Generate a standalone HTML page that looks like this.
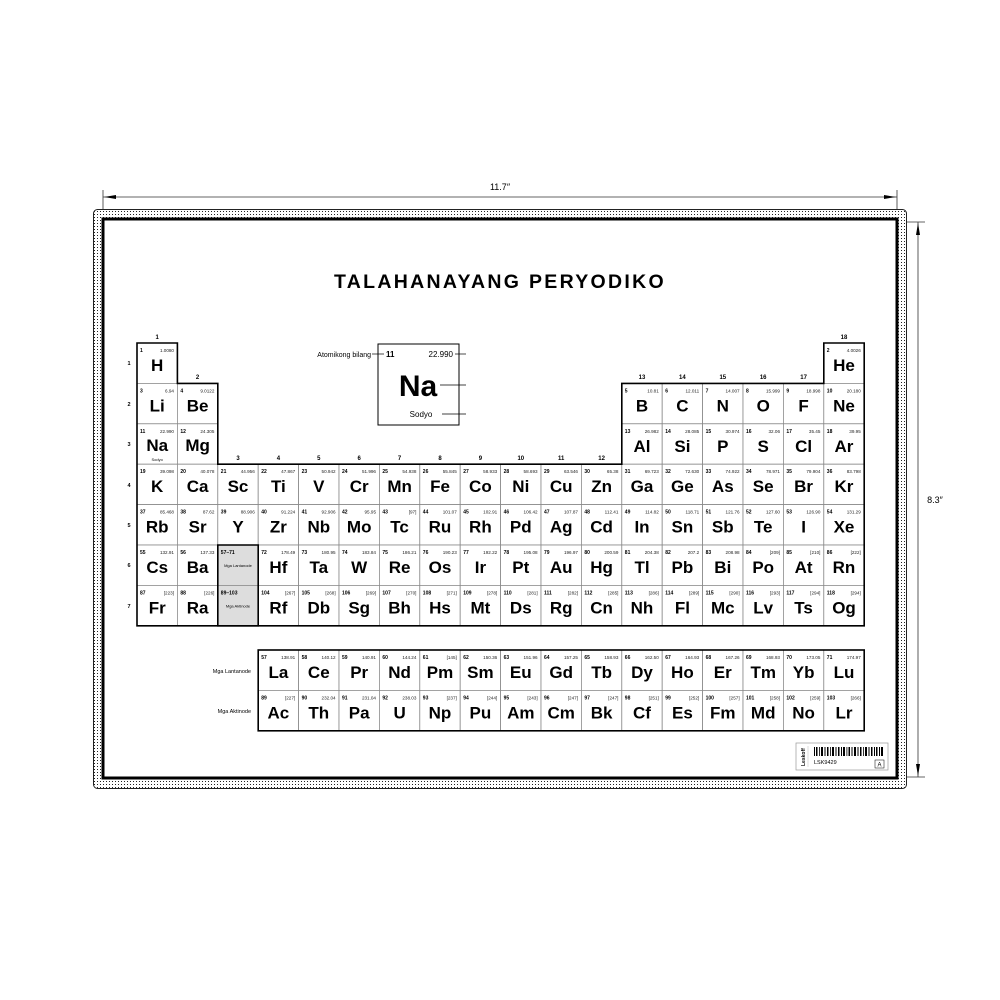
<!DOCTYPE html>
<html><head><meta charset="utf-8"><style>
html,body{margin:0;padding:0;background:#fff;}
svg{display:block;font-family:"Liberation Sans",Arial,sans-serif;}
.n{font-size:5px;font-weight:bold;}
.m{font-size:4.6px;text-anchor:end;fill:#222;}
.s{font-size:17px;font-weight:bold;text-anchor:middle;}
.c{fill:#fff;stroke:#8a8a8a;stroke-width:0.8;}
.g{font-size:6px;font-weight:bold;text-anchor:middle;}
.p{font-size:5.5px;font-weight:bold;text-anchor:middle;}
</style></head><body>
<svg width="1000" height="1000" viewBox="0 0 1000 1000">
<defs>
<pattern id="dots" width="3" height="3" patternUnits="userSpaceOnUse"><rect width="3" height="3" fill="#fff"/><rect x="1" y="1" width="1" height="1" fill="#222"/></pattern>
<g id="cell"><rect class="c" width="40.4" height="40.4"/></g>
</defs>
<!-- dimension lines -->
<line x1="103" y1="197" x2="897" y2="197" stroke="#333" stroke-width="0.8"/>
<line x1="103" y1="190" x2="103" y2="212" stroke="#333" stroke-width="0.8"/>
<line x1="897" y1="190" x2="897" y2="212" stroke="#333" stroke-width="0.8"/>
<polygon points="104,197 116,195 116,199" fill="#000"/>
<polygon points="896,197 884,195 884,199" fill="#000"/>
<text x="500" y="190" font-size="9" text-anchor="middle">11.7″</text>
<line x1="918" y1="222" x2="918" y2="777" stroke="#333" stroke-width="0.8"/>
<line x1="906" y1="222" x2="925" y2="222" stroke="#333" stroke-width="0.8"/>
<line x1="906" y1="777" x2="925" y2="777" stroke="#333" stroke-width="0.8"/>
<polygon points="918,223 916,235 920,235" fill="#000"/>
<polygon points="918,776 916,764 920,764" fill="#000"/>
<text x="935" y="503" font-size="9" text-anchor="middle">8.3″</text>
<!-- frame -->
<rect x="93.5" y="209.5" width="813" height="579" rx="4" fill="url(#dots)" stroke="#222" stroke-width="1"/>
<rect x="103" y="219" width="794" height="559" fill="#fff" stroke="#000" stroke-width="3"/>
<text x="500" y="288" font-size="19.5" font-weight="bold" text-anchor="middle" letter-spacing="2.3">TALAHANAYANG PERYODIKO</text>
<!-- key -->
<rect x="378" y="344" width="81" height="81" fill="#fff" stroke="#000" stroke-width="1"/>
<text x="386" y="357" font-size="8" font-weight="bold">11</text>
<text x="453" y="357" font-size="8" text-anchor="end">22.990</text>
<text x="418" y="396" font-size="30" font-weight="bold" text-anchor="middle">Na</text>
<text x="421" y="417" font-size="8" text-anchor="middle">Sodyo</text>
<text x="371" y="357" font-size="7" text-anchor="end">Atomikong bilang</text>
<g stroke="#000" stroke-width="0.7"><line x1="372" y1="354" x2="384" y2="354"/><line x1="455" y1="354" x2="466" y2="354"/><line x1="440" y1="385" x2="466" y2="385"/><line x1="442" y1="414" x2="466" y2="414"/></g>
<!-- group numbers -->
<text class="g" x="157.2" y="339">1</text><text class="g" x="197.6" y="379">2</text>
<text class="g" x="238" y="460">3</text><text class="g" x="278.4" y="460">4</text><text class="g" x="318.8" y="460">5</text><text class="g" x="359.2" y="460">6</text><text class="g" x="399.6" y="460">7</text><text class="g" x="440" y="460">8</text><text class="g" x="480.4" y="460">9</text><text class="g" x="520.8" y="460">10</text><text class="g" x="561.2" y="460">11</text><text class="g" x="601.6" y="460">12</text>
<text class="g" x="642" y="379">13</text><text class="g" x="682.4" y="379">14</text><text class="g" x="722.8" y="379">15</text><text class="g" x="763.2" y="379">16</text><text class="g" x="803.6" y="379">17</text><text class="g" x="844" y="339">18</text>
<text class="p" x="129" y="365">1</text><text class="p" x="129" y="406">2</text><text class="p" x="129" y="446">3</text><text class="p" x="129" y="487">4</text><text class="p" x="129" y="527">5</text><text class="p" x="129" y="567">6</text><text class="p" x="129" y="608">7</text>
<!-- cells -->
<g transform="translate(137,343)"><use href="#cell"/><text class="n" x="3" y="9">1</text><text class="m" x="37" y="9">1.0080</text><text class="s" x="20.2" y="28">H</text></g>
<g transform="translate(823.8,343)"><use href="#cell"/><text class="n" x="3" y="9">2</text><text class="m" x="37" y="9">4.0026</text><text class="s" x="20.2" y="28">He</text></g>
<g transform="translate(137,383.4)"><use href="#cell"/><text class="n" x="3" y="9">3</text><text class="m" x="37" y="9">6.94</text><text class="s" x="20.2" y="28">Li</text></g>
<g transform="translate(177.4,383.4)"><use href="#cell"/><text class="n" x="3" y="9">4</text><text class="m" x="37" y="9">9.0122</text><text class="s" x="20.2" y="28">Be</text></g>
<g transform="translate(621.8,383.4)"><use href="#cell"/><text class="n" x="3" y="9">5</text><text class="m" x="37" y="9">10.81</text><text class="s" x="20.2" y="28">B</text></g>
<g transform="translate(662.2,383.4)"><use href="#cell"/><text class="n" x="3" y="9">6</text><text class="m" x="37" y="9">12.011</text><text class="s" x="20.2" y="28">C</text></g>
<g transform="translate(702.6,383.4)"><use href="#cell"/><text class="n" x="3" y="9">7</text><text class="m" x="37" y="9">14.007</text><text class="s" x="20.2" y="28">N</text></g>
<g transform="translate(743,383.4)"><use href="#cell"/><text class="n" x="3" y="9">8</text><text class="m" x="37" y="9">15.999</text><text class="s" x="20.2" y="28">O</text></g>
<g transform="translate(783.4,383.4)"><use href="#cell"/><text class="n" x="3" y="9">9</text><text class="m" x="37" y="9">18.998</text><text class="s" x="20.2" y="28">F</text></g>
<g transform="translate(823.8,383.4)"><use href="#cell"/><text class="n" x="3" y="9">10</text><text class="m" x="37" y="9">20.180</text><text class="s" x="20.2" y="28">Ne</text></g>
<g transform="translate(137,423.8)"><use href="#cell"/><text class="n" x="3" y="9">11</text><text class="m" x="37" y="9">22.990</text><text class="s" x="20.2" y="27">Na</text><text x="20.2" y="37" font-size="4" text-anchor="middle">Sodyo</text></g>
<g transform="translate(177.4,423.8)"><use href="#cell"/><text class="n" x="3" y="9">12</text><text class="m" x="37" y="9">24.305</text><text class="s" x="20.2" y="27">Mg</text></g>
<g transform="translate(621.8,423.8)"><use href="#cell"/><text class="n" x="3" y="9">13</text><text class="m" x="37" y="9">26.982</text><text class="s" x="20.2" y="28">Al</text></g>
<g transform="translate(662.2,423.8)"><use href="#cell"/><text class="n" x="3" y="9">14</text><text class="m" x="37" y="9">28.085</text><text class="s" x="20.2" y="28">Si</text></g>
<g transform="translate(702.6,423.8)"><use href="#cell"/><text class="n" x="3" y="9">15</text><text class="m" x="37" y="9">30.974</text><text class="s" x="20.2" y="28">P</text></g>
<g transform="translate(743,423.8)"><use href="#cell"/><text class="n" x="3" y="9">16</text><text class="m" x="37" y="9">32.06</text><text class="s" x="20.2" y="28">S</text></g>
<g transform="translate(783.4,423.8)"><use href="#cell"/><text class="n" x="3" y="9">17</text><text class="m" x="37" y="9">35.45</text><text class="s" x="20.2" y="28">Cl</text></g>
<g transform="translate(823.8,423.8)"><use href="#cell"/><text class="n" x="3" y="9">18</text><text class="m" x="37" y="9">39.95</text><text class="s" x="20.2" y="28">Ar</text></g>
<!-- row 4 -->
<g transform="translate(137,464.2)"><use href="#cell"/><text class="n" x="3" y="9">19</text><text class="m" x="37" y="9">39.098</text><text class="s" x="20.2" y="28">K</text></g>
<g transform="translate(177.4,464.2)"><use href="#cell"/><text class="n" x="3" y="9">20</text><text class="m" x="37" y="9">40.078</text><text class="s" x="20.2" y="28">Ca</text></g>
<g transform="translate(217.8,464.2)"><use href="#cell"/><text class="n" x="3" y="9">21</text><text class="m" x="37" y="9">44.956</text><text class="s" x="20.2" y="28">Sc</text></g>
<g transform="translate(258.2,464.2)"><use href="#cell"/><text class="n" x="3" y="9">22</text><text class="m" x="37" y="9">47.867</text><text class="s" x="20.2" y="28">Ti</text></g>
<g transform="translate(298.6,464.2)"><use href="#cell"/><text class="n" x="3" y="9">23</text><text class="m" x="37" y="9">50.942</text><text class="s" x="20.2" y="28">V</text></g>
<g transform="translate(339,464.2)"><use href="#cell"/><text class="n" x="3" y="9">24</text><text class="m" x="37" y="9">51.996</text><text class="s" x="20.2" y="28">Cr</text></g>
<g transform="translate(379.4,464.2)"><use href="#cell"/><text class="n" x="3" y="9">25</text><text class="m" x="37" y="9">54.938</text><text class="s" x="20.2" y="28">Mn</text></g>
<g transform="translate(419.8,464.2)"><use href="#cell"/><text class="n" x="3" y="9">26</text><text class="m" x="37" y="9">55.845</text><text class="s" x="20.2" y="28">Fe</text></g>
<g transform="translate(460.2,464.2)"><use href="#cell"/><text class="n" x="3" y="9">27</text><text class="m" x="37" y="9">58.933</text><text class="s" x="20.2" y="28">Co</text></g>
<g transform="translate(500.6,464.2)"><use href="#cell"/><text class="n" x="3" y="9">28</text><text class="m" x="37" y="9">58.693</text><text class="s" x="20.2" y="28">Ni</text></g>
<g transform="translate(541,464.2)"><use href="#cell"/><text class="n" x="3" y="9">29</text><text class="m" x="37" y="9">63.546</text><text class="s" x="20.2" y="28">Cu</text></g>
<g transform="translate(581.4,464.2)"><use href="#cell"/><text class="n" x="3" y="9">30</text><text class="m" x="37" y="9">65.38</text><text class="s" x="20.2" y="28">Zn</text></g>
<g transform="translate(621.8,464.2)"><use href="#cell"/><text class="n" x="3" y="9">31</text><text class="m" x="37" y="9">69.723</text><text class="s" x="20.2" y="28">Ga</text></g>
<g transform="translate(662.2,464.2)"><use href="#cell"/><text class="n" x="3" y="9">32</text><text class="m" x="37" y="9">72.630</text><text class="s" x="20.2" y="28">Ge</text></g>
<g transform="translate(702.6,464.2)"><use href="#cell"/><text class="n" x="3" y="9">33</text><text class="m" x="37" y="9">74.922</text><text class="s" x="20.2" y="28">As</text></g>
<g transform="translate(743,464.2)"><use href="#cell"/><text class="n" x="3" y="9">34</text><text class="m" x="37" y="9">78.971</text><text class="s" x="20.2" y="28">Se</text></g>
<g transform="translate(783.4,464.2)"><use href="#cell"/><text class="n" x="3" y="9">35</text><text class="m" x="37" y="9">79.904</text><text class="s" x="20.2" y="28">Br</text></g>
<g transform="translate(823.8,464.2)"><use href="#cell"/><text class="n" x="3" y="9">36</text><text class="m" x="37" y="9">83.798</text><text class="s" x="20.2" y="28">Kr</text></g>
<!-- row 5 -->
<g transform="translate(137,504.6)"><use href="#cell"/><text class="n" x="3" y="9">37</text><text class="m" x="37" y="9">85.468</text><text class="s" x="20.2" y="28">Rb</text></g>
<g transform="translate(177.4,504.6)"><use href="#cell"/><text class="n" x="3" y="9">38</text><text class="m" x="37" y="9">87.62</text><text class="s" x="20.2" y="28">Sr</text></g>
<g transform="translate(217.8,504.6)"><use href="#cell"/><text class="n" x="3" y="9">39</text><text class="m" x="37" y="9">88.906</text><text class="s" x="20.2" y="28">Y</text></g>
<g transform="translate(258.2,504.6)"><use href="#cell"/><text class="n" x="3" y="9">40</text><text class="m" x="37" y="9">91.224</text><text class="s" x="20.2" y="28">Zr</text></g>
<g transform="translate(298.6,504.6)"><use href="#cell"/><text class="n" x="3" y="9">41</text><text class="m" x="37" y="9">92.906</text><text class="s" x="20.2" y="28">Nb</text></g>
<g transform="translate(339,504.6)"><use href="#cell"/><text class="n" x="3" y="9">42</text><text class="m" x="37" y="9">95.95</text><text class="s" x="20.2" y="28">Mo</text></g>
<g transform="translate(379.4,504.6)"><use href="#cell"/><text class="n" x="3" y="9">43</text><text class="m" x="37" y="9">[97]</text><text class="s" x="20.2" y="28">Tc</text></g>
<g transform="translate(419.8,504.6)"><use href="#cell"/><text class="n" x="3" y="9">44</text><text class="m" x="37" y="9">101.07</text><text class="s" x="20.2" y="28">Ru</text></g>
<g transform="translate(460.2,504.6)"><use href="#cell"/><text class="n" x="3" y="9">45</text><text class="m" x="37" y="9">102.91</text><text class="s" x="20.2" y="28">Rh</text></g>
<g transform="translate(500.6,504.6)"><use href="#cell"/><text class="n" x="3" y="9">46</text><text class="m" x="37" y="9">106.42</text><text class="s" x="20.2" y="28">Pd</text></g>
<g transform="translate(541,504.6)"><use href="#cell"/><text class="n" x="3" y="9">47</text><text class="m" x="37" y="9">107.87</text><text class="s" x="20.2" y="28">Ag</text></g>
<g transform="translate(581.4,504.6)"><use href="#cell"/><text class="n" x="3" y="9">48</text><text class="m" x="37" y="9">112.41</text><text class="s" x="20.2" y="28">Cd</text></g>
<g transform="translate(621.8,504.6)"><use href="#cell"/><text class="n" x="3" y="9">49</text><text class="m" x="37" y="9">114.82</text><text class="s" x="20.2" y="28">In</text></g>
<g transform="translate(662.2,504.6)"><use href="#cell"/><text class="n" x="3" y="9">50</text><text class="m" x="37" y="9">118.71</text><text class="s" x="20.2" y="28">Sn</text></g>
<g transform="translate(702.6,504.6)"><use href="#cell"/><text class="n" x="3" y="9">51</text><text class="m" x="37" y="9">121.76</text><text class="s" x="20.2" y="28">Sb</text></g>
<g transform="translate(743,504.6)"><use href="#cell"/><text class="n" x="3" y="9">52</text><text class="m" x="37" y="9">127.60</text><text class="s" x="20.2" y="28">Te</text></g>
<g transform="translate(783.4,504.6)"><use href="#cell"/><text class="n" x="3" y="9">53</text><text class="m" x="37" y="9">126.90</text><text class="s" x="20.2" y="28">I</text></g>
<g transform="translate(823.8,504.6)"><use href="#cell"/><text class="n" x="3" y="9">54</text><text class="m" x="37" y="9">131.29</text><text class="s" x="20.2" y="28">Xe</text></g>
<!-- row 6 -->
<g transform="translate(137,545)"><use href="#cell"/><text class="n" x="3" y="9">55</text><text class="m" x="37" y="9">132.91</text><text class="s" x="20.2" y="28">Cs</text></g>
<g transform="translate(177.4,545)"><use href="#cell"/><text class="n" x="3" y="9">56</text><text class="m" x="37" y="9">137.33</text><text class="s" x="20.2" y="28">Ba</text></g>
<g transform="translate(217.8,545)"><rect width="40.4" height="40.4" fill="#ddd" stroke="#8a8a8a" stroke-width="0.8"/><text class="n" x="3" y="9">57–71</text><text x="20.2" y="22" font-size="4" text-anchor="middle">Mga Lantanode</text></g>
<g transform="translate(258.2,545)"><use href="#cell"/><text class="n" x="3" y="9">72</text><text class="m" x="37" y="9">178.49</text><text class="s" x="20.2" y="28">Hf</text></g>
<g transform="translate(298.6,545)"><use href="#cell"/><text class="n" x="3" y="9">73</text><text class="m" x="37" y="9">180.95</text><text class="s" x="20.2" y="28">Ta</text></g>
<g transform="translate(339,545)"><use href="#cell"/><text class="n" x="3" y="9">74</text><text class="m" x="37" y="9">183.84</text><text class="s" x="20.2" y="28">W</text></g>
<g transform="translate(379.4,545)"><use href="#cell"/><text class="n" x="3" y="9">75</text><text class="m" x="37" y="9">186.21</text><text class="s" x="20.2" y="28">Re</text></g>
<g transform="translate(419.8,545)"><use href="#cell"/><text class="n" x="3" y="9">76</text><text class="m" x="37" y="9">190.23</text><text class="s" x="20.2" y="28">Os</text></g>
<g transform="translate(460.2,545)"><use href="#cell"/><text class="n" x="3" y="9">77</text><text class="m" x="37" y="9">192.22</text><text class="s" x="20.2" y="28">Ir</text></g>
<g transform="translate(500.6,545)"><use href="#cell"/><text class="n" x="3" y="9">78</text><text class="m" x="37" y="9">195.08</text><text class="s" x="20.2" y="28">Pt</text></g>
<g transform="translate(541,545)"><use href="#cell"/><text class="n" x="3" y="9">79</text><text class="m" x="37" y="9">196.97</text><text class="s" x="20.2" y="28">Au</text></g>
<g transform="translate(581.4,545)"><use href="#cell"/><text class="n" x="3" y="9">80</text><text class="m" x="37" y="9">200.59</text><text class="s" x="20.2" y="28">Hg</text></g>
<g transform="translate(621.8,545)"><use href="#cell"/><text class="n" x="3" y="9">81</text><text class="m" x="37" y="9">204.38</text><text class="s" x="20.2" y="28">Tl</text></g>
<g transform="translate(662.2,545)"><use href="#cell"/><text class="n" x="3" y="9">82</text><text class="m" x="37" y="9">207.2</text><text class="s" x="20.2" y="28">Pb</text></g>
<g transform="translate(702.6,545)"><use href="#cell"/><text class="n" x="3" y="9">83</text><text class="m" x="37" y="9">208.98</text><text class="s" x="20.2" y="28">Bi</text></g>
<g transform="translate(743,545)"><use href="#cell"/><text class="n" x="3" y="9">84</text><text class="m" x="37" y="9">[209]</text><text class="s" x="20.2" y="28">Po</text></g>
<g transform="translate(783.4,545)"><use href="#cell"/><text class="n" x="3" y="9">85</text><text class="m" x="37" y="9">[210]</text><text class="s" x="20.2" y="28">At</text></g>
<g transform="translate(823.8,545)"><use href="#cell"/><text class="n" x="3" y="9">86</text><text class="m" x="37" y="9">[222]</text><text class="s" x="20.2" y="28">Rn</text></g>
<!-- row 7 -->
<g transform="translate(137,585.4)"><use href="#cell"/><text class="n" x="3" y="9">87</text><text class="m" x="37" y="9">[223]</text><text class="s" x="20.2" y="28">Fr</text></g>
<g transform="translate(177.4,585.4)"><use href="#cell"/><text class="n" x="3" y="9">88</text><text class="m" x="37" y="9">[226]</text><text class="s" x="20.2" y="28">Ra</text></g>
<g transform="translate(217.8,585.4)"><rect width="40.4" height="40.4" fill="#ddd" stroke="#8a8a8a" stroke-width="0.8"/><text class="n" x="3" y="9">89–103</text><text x="20.2" y="22" font-size="4" text-anchor="middle">Mga Aktinode</text></g>
<g transform="translate(258.2,585.4)"><use href="#cell"/><text class="n" x="3" y="9">104</text><text class="m" x="37" y="9">[267]</text><text class="s" x="20.2" y="28">Rf</text></g>
<g transform="translate(298.6,585.4)"><use href="#cell"/><text class="n" x="3" y="9">105</text><text class="m" x="37" y="9">[268]</text><text class="s" x="20.2" y="28">Db</text></g>
<g transform="translate(339,585.4)"><use href="#cell"/><text class="n" x="3" y="9">106</text><text class="m" x="37" y="9">[269]</text><text class="s" x="20.2" y="28">Sg</text></g>
<g transform="translate(379.4,585.4)"><use href="#cell"/><text class="n" x="3" y="9">107</text><text class="m" x="37" y="9">[270]</text><text class="s" x="20.2" y="28">Bh</text></g>
<g transform="translate(419.8,585.4)"><use href="#cell"/><text class="n" x="3" y="9">108</text><text class="m" x="37" y="9">[271]</text><text class="s" x="20.2" y="28">Hs</text></g>
<g transform="translate(460.2,585.4)"><use href="#cell"/><text class="n" x="3" y="9">109</text><text class="m" x="37" y="9">[278]</text><text class="s" x="20.2" y="28">Mt</text></g>
<g transform="translate(500.6,585.4)"><use href="#cell"/><text class="n" x="3" y="9">110</text><text class="m" x="37" y="9">[281]</text><text class="s" x="20.2" y="28">Ds</text></g>
<g transform="translate(541,585.4)"><use href="#cell"/><text class="n" x="3" y="9">111</text><text class="m" x="37" y="9">[282]</text><text class="s" x="20.2" y="28">Rg</text></g>
<g transform="translate(581.4,585.4)"><use href="#cell"/><text class="n" x="3" y="9">112</text><text class="m" x="37" y="9">[285]</text><text class="s" x="20.2" y="28">Cn</text></g>
<g transform="translate(621.8,585.4)"><use href="#cell"/><text class="n" x="3" y="9">113</text><text class="m" x="37" y="9">[286]</text><text class="s" x="20.2" y="28">Nh</text></g>
<g transform="translate(662.2,585.4)"><use href="#cell"/><text class="n" x="3" y="9">114</text><text class="m" x="37" y="9">[289]</text><text class="s" x="20.2" y="28">Fl</text></g>
<g transform="translate(702.6,585.4)"><use href="#cell"/><text class="n" x="3" y="9">115</text><text class="m" x="37" y="9">[290]</text><text class="s" x="20.2" y="28">Mc</text></g>
<g transform="translate(743,585.4)"><use href="#cell"/><text class="n" x="3" y="9">116</text><text class="m" x="37" y="9">[293]</text><text class="s" x="20.2" y="28">Lv</text></g>
<g transform="translate(783.4,585.4)"><use href="#cell"/><text class="n" x="3" y="9">117</text><text class="m" x="37" y="9">[294]</text><text class="s" x="20.2" y="28">Ts</text></g>
<g transform="translate(823.8,585.4)"><use href="#cell"/><text class="n" x="3" y="9">118</text><text class="m" x="37" y="9">[294]</text><text class="s" x="20.2" y="28">Og</text></g>
<!-- lanthanides -->
<text x="251" y="673" font-size="5.5" text-anchor="end">Mga Lantanode</text>
<text x="251" y="713" font-size="5.5" text-anchor="end">Mga Aktinode</text>
<g transform="translate(258.2,650)"><use href="#cell"/><text class="n" x="3" y="9">57</text><text class="m" x="37" y="9">138.91</text><text class="s" x="20.2" y="28">La</text></g>
<g transform="translate(298.6,650)"><use href="#cell"/><text class="n" x="3" y="9">58</text><text class="m" x="37" y="9">140.12</text><text class="s" x="20.2" y="28">Ce</text></g>
<g transform="translate(339,650)"><use href="#cell"/><text class="n" x="3" y="9">59</text><text class="m" x="37" y="9">140.91</text><text class="s" x="20.2" y="28">Pr</text></g>
<g transform="translate(379.4,650)"><use href="#cell"/><text class="n" x="3" y="9">60</text><text class="m" x="37" y="9">144.24</text><text class="s" x="20.2" y="28">Nd</text></g>
<g transform="translate(419.8,650)"><use href="#cell"/><text class="n" x="3" y="9">61</text><text class="m" x="37" y="9">[145]</text><text class="s" x="20.2" y="28">Pm</text></g>
<g transform="translate(460.2,650)"><use href="#cell"/><text class="n" x="3" y="9">62</text><text class="m" x="37" y="9">150.36</text><text class="s" x="20.2" y="28">Sm</text></g>
<g transform="translate(500.6,650)"><use href="#cell"/><text class="n" x="3" y="9">63</text><text class="m" x="37" y="9">151.96</text><text class="s" x="20.2" y="28">Eu</text></g>
<g transform="translate(541,650)"><use href="#cell"/><text class="n" x="3" y="9">64</text><text class="m" x="37" y="9">157.25</text><text class="s" x="20.2" y="28">Gd</text></g>
<g transform="translate(581.4,650)"><use href="#cell"/><text class="n" x="3" y="9">65</text><text class="m" x="37" y="9">158.93</text><text class="s" x="20.2" y="28">Tb</text></g>
<g transform="translate(621.8,650)"><use href="#cell"/><text class="n" x="3" y="9">66</text><text class="m" x="37" y="9">162.50</text><text class="s" x="20.2" y="28">Dy</text></g>
<g transform="translate(662.2,650)"><use href="#cell"/><text class="n" x="3" y="9">67</text><text class="m" x="37" y="9">164.93</text><text class="s" x="20.2" y="28">Ho</text></g>
<g transform="translate(702.6,650)"><use href="#cell"/><text class="n" x="3" y="9">68</text><text class="m" x="37" y="9">167.26</text><text class="s" x="20.2" y="28">Er</text></g>
<g transform="translate(743,650)"><use href="#cell"/><text class="n" x="3" y="9">69</text><text class="m" x="37" y="9">168.93</text><text class="s" x="20.2" y="28">Tm</text></g>
<g transform="translate(783.4,650)"><use href="#cell"/><text class="n" x="3" y="9">70</text><text class="m" x="37" y="9">173.05</text><text class="s" x="20.2" y="28">Yb</text></g>
<g transform="translate(823.8,650)"><use href="#cell"/><text class="n" x="3" y="9">71</text><text class="m" x="37" y="9">174.97</text><text class="s" x="20.2" y="28">Lu</text></g>
<g transform="translate(258.2,690.4)"><use href="#cell"/><text class="n" x="3" y="9">89</text><text class="m" x="37" y="9">[227]</text><text class="s" x="20.2" y="28">Ac</text></g>
<g transform="translate(298.6,690.4)"><use href="#cell"/><text class="n" x="3" y="9">90</text><text class="m" x="37" y="9">232.04</text><text class="s" x="20.2" y="28">Th</text></g>
<g transform="translate(339,690.4)"><use href="#cell"/><text class="n" x="3" y="9">91</text><text class="m" x="37" y="9">231.04</text><text class="s" x="20.2" y="28">Pa</text></g>
<g transform="translate(379.4,690.4)"><use href="#cell"/><text class="n" x="3" y="9">92</text><text class="m" x="37" y="9">238.03</text><text class="s" x="20.2" y="28">U</text></g>
<g transform="translate(419.8,690.4)"><use href="#cell"/><text class="n" x="3" y="9">93</text><text class="m" x="37" y="9">[237]</text><text class="s" x="20.2" y="28">Np</text></g>
<g transform="translate(460.2,690.4)"><use href="#cell"/><text class="n" x="3" y="9">94</text><text class="m" x="37" y="9">[244]</text><text class="s" x="20.2" y="28">Pu</text></g>
<g transform="translate(500.6,690.4)"><use href="#cell"/><text class="n" x="3" y="9">95</text><text class="m" x="37" y="9">[243]</text><text class="s" x="20.2" y="28">Am</text></g>
<g transform="translate(541,690.4)"><use href="#cell"/><text class="n" x="3" y="9">96</text><text class="m" x="37" y="9">[247]</text><text class="s" x="20.2" y="28">Cm</text></g>
<g transform="translate(581.4,690.4)"><use href="#cell"/><text class="n" x="3" y="9">97</text><text class="m" x="37" y="9">[247]</text><text class="s" x="20.2" y="28">Bk</text></g>
<g transform="translate(621.8,690.4)"><use href="#cell"/><text class="n" x="3" y="9">98</text><text class="m" x="37" y="9">[251]</text><text class="s" x="20.2" y="28">Cf</text></g>
<g transform="translate(662.2,690.4)"><use href="#cell"/><text class="n" x="3" y="9">99</text><text class="m" x="37" y="9">[252]</text><text class="s" x="20.2" y="28">Es</text></g>
<g transform="translate(702.6,690.4)"><use href="#cell"/><text class="n" x="3" y="9">100</text><text class="m" x="37" y="9">[257]</text><text class="s" x="20.2" y="28">Fm</text></g>
<g transform="translate(743,690.4)"><use href="#cell"/><text class="n" x="3" y="9">101</text><text class="m" x="37" y="9">[258]</text><text class="s" x="20.2" y="28">Md</text></g>
<g transform="translate(783.4,690.4)"><use href="#cell"/><text class="n" x="3" y="9">102</text><text class="m" x="37" y="9">[259]</text><text class="s" x="20.2" y="28">No</text></g>
<g transform="translate(823.8,690.4)"><use href="#cell"/><text class="n" x="3" y="9">103</text><text class="m" x="37" y="9">[266]</text><text class="s" x="20.2" y="28">Lr</text></g>
<!-- thick outlines -->
<g fill="none" stroke="#000" stroke-width="1.6">
<path d="M137,343 H177.4 V383.4 H217.8 V464.2 H621.8 V383.4 H823.8 V343 H864.2 V625.8 H137 Z"/>
<path d="M217.8,545 H258.2 V625.8 H217.8 Z"/>
<rect x="258.2" y="650" width="606" height="80.8"/>
</g>
<!-- barcode label -->
<rect x="796" y="743" width="92" height="27" fill="#fff" stroke="#999" stroke-width="0.7"/>
<text x="0" y="0" font-size="5" font-weight="bold" transform="translate(805,766) rotate(-90)">Leskoff</text>
<line x1="808" y1="746" x2="808" y2="767" stroke="#bbb" stroke-width="0.5"/>
<g fill="#000">
<rect x="814" y="747" width="1" height="9"/><rect x="816" y="747" width="1.5" height="9"/><rect x="819" y="747" width="0.8" height="9"/><rect x="821" y="747" width="2" height="9"/><rect x="824.5" y="747" width="1" height="9"/><rect x="827" y="747" width="1.5" height="9"/><rect x="830" y="747" width="0.8" height="9"/><rect x="832" y="747" width="2" height="9"/><rect x="835.5" y="747" width="1" height="9"/><rect x="838" y="747" width="1.5" height="9"/><rect x="841" y="747" width="1" height="9"/><rect x="843" y="747" width="2" height="9"/><rect x="846.5" y="747" width="0.8" height="9"/><rect x="848.5" y="747" width="1.5" height="9"/><rect x="851.5" y="747" width="1" height="9"/><rect x="854" y="747" width="2" height="9"/><rect x="857.5" y="747" width="1" height="9"/><rect x="860" y="747" width="1.5" height="9"/><rect x="863" y="747" width="0.8" height="9"/><rect x="865" y="747" width="2" height="9"/><rect x="868.5" y="747" width="1" height="9"/><rect x="871" y="747" width="1.5" height="9"/><rect x="874" y="747" width="1" height="9"/><rect x="876" y="747" width="1.5" height="9"/><rect x="879" y="747" width="1" height="9"/><rect x="881" y="747" width="2" height="9"/>
</g>
<text x="814" y="764" font-size="5.5">LSK9429</text>
<rect x="875" y="760" width="9" height="8" fill="#fff" stroke="#000" stroke-width="0.5"/>
<text x="879.5" y="766.5" font-size="6" text-anchor="middle">A</text>
</svg>
</body></html>
